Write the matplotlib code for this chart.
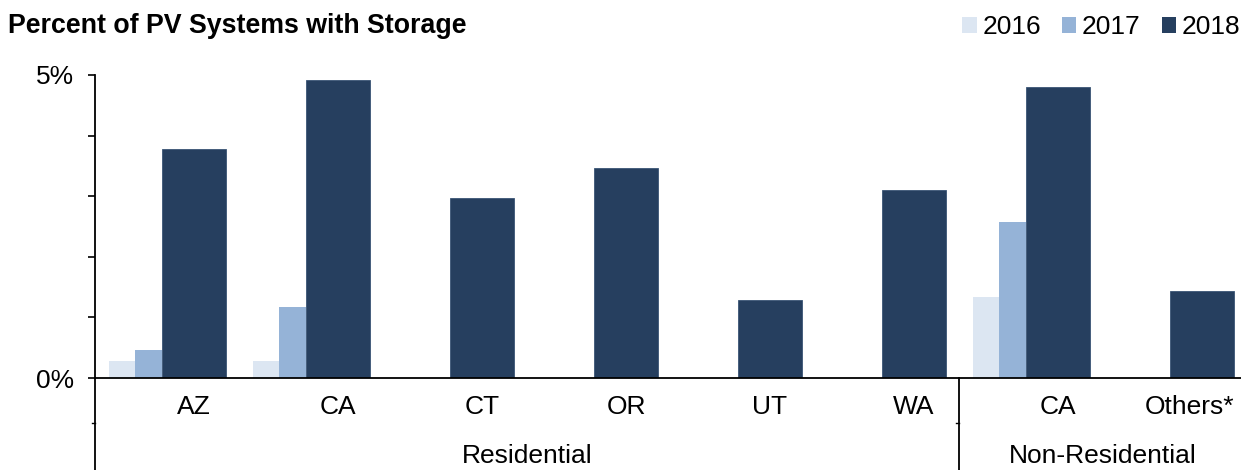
import matplotlib
matplotlib.use("Agg")
import matplotlib.pyplot as plt
from matplotlib.patches import Patch
import numpy as np

plt.rcParams['font.family'] = ['Liberation Sans', 'DejaVu Sans']

categories = ["AZ", "CA", "CT", "OR", "UT", "WA", "CA", "Others*"]
groups = ["Residential", "Non-Residential"]
group_sizes = [6, 2]
years = ["2016", "2017", "2018"]
v2016 = [0.28, 0.28, 0, 0, 0, 0, 1.34, 0]
v2017 = [0.46, 1.17, 0, 0, 0, 0, 2.57, 0]
v2018 = [3.78, 4.92, 2.97, 3.47, 1.29, 3.10, 4.80, 1.44]
colors = ["#DCE6F2", "#95B3D7", "#263F5F"]
yticks = [0, 1, 2, 3, 4, 5]
ytick_labels = ["0%", "", "", "", "", "5%"]

FS = 19
W, H = 1241, 470
fig = plt.figure(figsize=(W / 100, H / 100), dpi=100)
x0, x1 = 95, 1241
y0, y1 = 378, 75
ax = fig.add_axes([x0 / W, 1 - y0 / H, (x1 - x0) / W, (y0 - y1) / H])
cat_w = 144.0
ax.set_xlim(0, (x1 - x0) / cat_w)
ax.set_ylim(0, 5)

idx = np.arange(len(categories))
# bar layout within each category (fraction of category width)
l16, l17, l18, r18 = 0.097, 0.278, 0.465, 0.91
ax.bar(idx + l16, v2016, width=l17 - l16, align='edge', color=colors[0], linewidth=0)
ax.bar(idx + l17, v2017, width=l18 - l17, align='edge', color=colors[1], linewidth=0)
ax.bar(idx + l18, v2018, width=r18 - l18, align='edge', color=colors[2],
       edgecolor="#3A5575", linewidth=0.6)

for s in ['top', 'right']:
    ax.spines[s].set_visible(False)
ax.spines['left'].set_linewidth(1.3)
ax.spines['bottom'].set_linewidth(1.3)
ax.set_yticks(yticks)
ax.set_yticklabels(ytick_labels, fontsize=FS)
ax.tick_params(axis='y', direction='out', length=5, width=1.2, pad=10)
ax.set_xticks([])

trans = ax.get_xaxis_transform()
# category labels
xmax = ax.get_xlim()[1]
for i, c in enumerate(categories):
    xc = i + (l18 + r18) / 2
    if i == len(categories) - 1:
        ax.text(xmax - 7 / cat_w, -(407 - y0) / (y0 - y1), c, transform=trans,
                ha='right', va='center', fontsize=FS)
    else:
        ax.text(xc, -(407 - y0) / (y0 - y1), c, transform=trans,
                ha='center', va='center', fontsize=FS)
# group labels and separators
start = 0
bounds = [0]
for g, n in zip(groups, group_sizes):
    ax.text(start + n / 2, -(456 - y0) / (y0 - y1), g, transform=trans,
            ha='center', va='center', fontsize=FS)
    start += n
    bounds.append(start)
ylow = -(H - y0) / (y0 - y1)
ymid = -(423 - y0) / (y0 - y1)
for b in bounds[:-1]:
    ax.plot([b, b], [0, ylow], transform=trans, color='black', lw=1.3, clip_on=False)
    ax.plot([b - 3 / cat_w, b], [ymid, ymid], transform=trans, color='black', lw=1.0, clip_on=False)

fig.text(8 / W, 1 - 26 / H, "Percent of PV Systems with Storage", fontsize=19.3,
         fontweight='bold', ha='left', va='center')

handles = [Patch(facecolor=c, edgecolor='none') for c in colors]
fig.legend(handles, years, loc='center right', bbox_to_anchor=(1240 / W, 1 - 27 / H),
           ncol=3, frameon=False, fontsize=FS, handlelength=0.55, handleheight=0.55,
           handletextpad=0.2, columnspacing=0.8, borderaxespad=0, borderpad=0)

fig.savefig("out.png", dpi=100)
